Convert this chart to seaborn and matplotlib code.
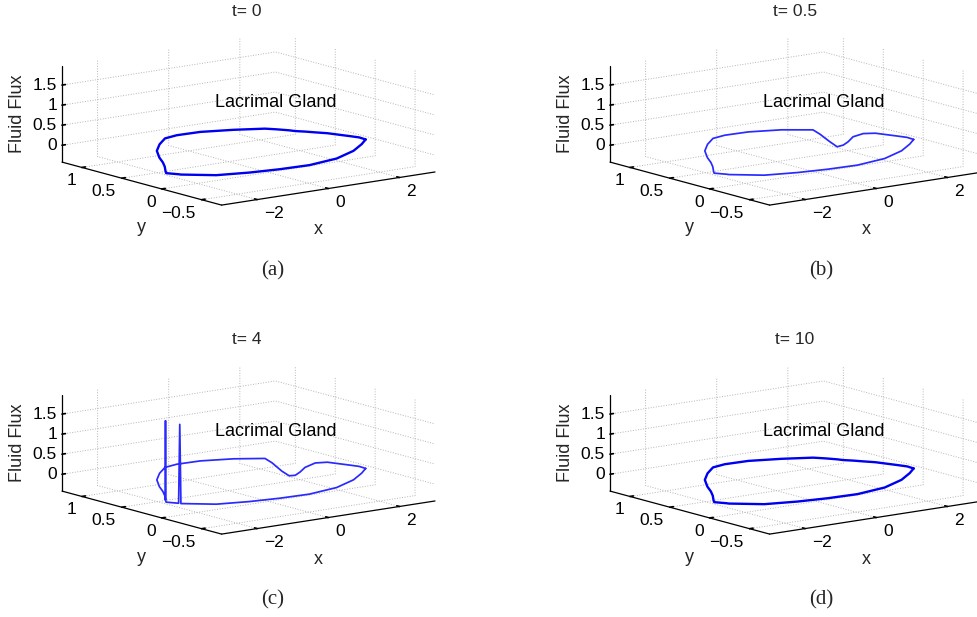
import numpy as np
import matplotlib
matplotlib.use("Agg")
import matplotlib.pyplot as plt
import seaborn as sns
from mpl_toolkits.mplot3d import proj3d

# ---------------- data ----------------
# eyelid boundary, traced from the temporal canthus along the upper lid,
# round the nasal canthus and back along the lower lid
x_outline = [2.80, 2.82, 2.74, 2.53, 2.37, 2.24, 2.17, 2.10, 2.04, 1.95, 1.89,
             1.82, 1.72, 1.08, 0.35, -0.29, -0.71, -1.20, -1.68, -2.08,
             -2.34, -2.58, -2.85, -2.85, -2.85, -2.99, -2.84, -2.83, -2.82,
             -2.23, -1.46, -0.70, 0.10, 1.02, 1.83, 2.42, 2.80]
y_outline = [0.03, 0.12, 0.20, 0.39, 0.47, 0.54, 0.57, 0.60, 0.65, 0.70, 0.733,
             0.765, 0.81, 0.92, 1.01, 1.02, 0.98, 0.83, 0.65, 0.44,
             0.28, 0.15, 0.02, 0.02, 0.02, -0.05, -0.14, -0.15, -0.16,
             -0.34, -0.415, -0.455, -0.47, -0.40, -0.25, -0.09, 0.03]

flux_t0 = [0, 0, 0, 0, 0, 0, 0, 0, 0, 0, 0,
           0, 0, 0, 0, 0, 0, 0, 0, 0,
           0, 0, 0, 0, 0, 0, 0, 0, 0,
           0, 0, 0, 0, 0, 0, 0, 0]
flux_t05 = [0, 0, 0, 0, -0.03, -0.13, -0.26, -0.35, -0.41, -0.30, -0.22,
            -0.13, -0.03, 0, 0, 0, 0, 0, 0, 0,
            0, 0, 0, 0, 0, 0, 0, 0, 0,
            0, 0, 0, 0, 0, 0, 0, 0]
flux_t4 = [0, 0, 0, 0, -0.04, -0.17, -0.29, -0.38, -0.41, -0.31, -0.22,
           -0.12, -0.02, 0, 0, 0, 0, 0, 0, 0,
           0, 0, 0, 1.97, 0, 0, 0, 1.97, 0,
           0, 0, 0, 0, 0, 0, 0, 0]
flux_t10 = [0, 0, 0, 0, 0, 0, 0, 0, 0, 0, 0,
            0, 0, 0, 0, 0, 0, 0, 0, 0,
            0, 0, 0, 0, 0, 0, 0, 0, 0,
            0, 0, 0, 0, 0, 0, 0, 0]

times = ["0", "0.5", "4", "10"]
captions = ["(a)", "(b)", "(c)", "(d)"]
fluxes = [flux_t0, flux_t05, flux_t4, flux_t10]

x_ticks = [-2, 0, 2]
y_ticks = [-0.5, 0, 0.5, 1]
z_ticks = [0, 0.5, 1, 1.5]
x_tick_labels = ['\u22122', '0', '2']
y_tick_labels = ['\u22120.5', '0', '0.5', '1']
z_tick_labels = ['0', '0.5', '1', '1.5']
x_lim = (-3, 3)
y_lim = (-0.75, 1.25)
z_lim = (-0.42, 1.975)

# ---------------- style ----------------
sns.set_theme(style="white")
plt.rcParams['font.family'] = ['Liberation Sans', 'DejaVu Sans']
plt.rcParams['grid.color'] = '#b5b5b5'
plt.rcParams['grid.linestyle'] = ':'
plt.rcParams['grid.linewidth'] = 0.7

W, H = 977, 617
fig = plt.figure(figsize=(W / 100, H / 100), dpi=100, facecolor='white')

panel_offsets = [(0, 0), (548, 0), (0, 329), (548, 329)]
box_center = (248.5, 119.0)    # px from top-left, panel (a)
box_width = 373.0              # projected box width in px
line_styles = [dict(color='#0000f0', lw=1.7), dict(color='#2a2aff', lw=1.25),
               dict(color='#2a2aff', lw=1.25), dict(color='#0000f0', lw=1.7)]
TICK_FS = 12.5

axes = []
for i in range(4):
    s = 0.4
    ax = fig.add_axes([0.05, 0.05, s, s * W / H], projection='3d')
    ax.set_proj_type('ortho')
    ax.view_init(elev=11.8, azim=-127.2)
    ax.set_box_aspect((2.73, 2.69, 1.0), zoom=2.2)
    ax.set_facecolor((1, 1, 1, 0))

    px = np.asarray(x_outline)
    py = np.asarray(y_outline)
    pz = np.asarray(fluxes[i], dtype=float)
    lines = ax.plot(px, py, pz, **line_styles[i], solid_joinstyle='round')
    for ln in lines:
        ln.set_clip_on(False)

    ax.set_xlim(*x_lim)
    ax.set_ylim(*y_lim)
    ax.set_zlim(*z_lim)
    ax.set_xticks(x_ticks)
    ax.set_yticks(y_ticks)
    ax.set_zticks(z_ticks)
    ax.set_xticklabels([''] * len(x_ticks))
    ax.set_yticklabels([''] * len(y_ticks))
    ax.set_zticklabels([''] * len(z_ticks))
    ax.grid(True)
    ax.tick_params(colors='black')

    for axis in (ax.xaxis, ax.yaxis, ax.zaxis):
        axis.set_pane_color((1, 1, 1, 0))
        axis.line.set_color('black')
        axis.line.set_linewidth(0.9)
        axis._axinfo['grid'].update(color='#b5b5b5', linestyle=':', linewidth=0.7)
        axis._axinfo['tick']['inward_factor'] = 0.0
        axis._axinfo['tick']['outward_factor'] = 0.2
        axis._axinfo['tick']['color'] = 'black'
        axis.label.set_visible(False)
        axis.offsetText.set_visible(False)
        for t in axis.get_major_ticks():
            t.label1.set_visible(False)
            t.label2.set_visible(False)
    for ttl in (ax.title, ax._left_title, ax._right_title):
        ttl.set_visible(False)

    ax.text(1.0, 0.36, 0.98, "Lacrimal Gland", ha='center', va='center',
            fontsize=13, color='black')
    axes.append(ax)


def to_px(ax, xx, yy, zz):
    xs, ys, _ = proj3d.proj_transform(np.atleast_1d(np.asarray(xx, float)),
                                      np.atleast_1d(np.asarray(yy, float)),
                                      np.atleast_1d(np.asarray(zz, float)),
                                      ax.get_proj())
    return ax.transData.transform(np.column_stack([xs, ys]))


# ---------------- place each projected box where the reference has it ----------------
fig.canvas.draw()
cx3 = [x_lim[a] for a in (0, 1) for b in (0, 1) for c in (0, 1)]
cy3 = [y_lim[b] for a in (0, 1) for b in (0, 1) for c in (0, 1)]
cz3 = [z_lim[c] for a in (0, 1) for b in (0, 1) for c in (0, 1)]
for i, ax in enumerate(axes):
    pts = to_px(ax, cx3, cy3, cz3)
    wm = pts[:, 0].max() - pts[:, 0].min()
    cxm = 0.5 * (pts[:, 0].max() + pts[:, 0].min())
    cym = 0.5 * (pts[:, 1].max() + pts[:, 1].min())
    bb = ax.get_position()
    acx = 0.5 * (bb.x0 + bb.x1) * W
    acy = 0.5 * (bb.y0 + bb.y1) * H
    size_px = bb.width * W
    k = box_width / wm
    new_size = size_px * k
    offx, offy = (cxm - acx) * k, (cym - acy) * k
    dx, dy = panel_offsets[i]
    tx = box_center[0] + dx
    ty = H - (box_center[1] + dy)
    ncx, ncy = tx - offx, ty - offy
    ax.set_position([(ncx - new_size / 2) / W, (ncy - new_size / 2) / H,
                     new_size / W, new_size / H])

fig.canvas.draw()


# ---------------- tick labels, placed at the projected tick positions ----------------
def ptext(pxd, pyd, s, **kw):
    # pxd, pyd in display pixels (origin bottom-left)
    fig.text(pxd / W, pyd / H, s, fontsize=TICK_FS, color='black', **kw)


for ax in axes:
    p = to_px(ax, x_ticks, [y_lim[0]] * len(x_ticks), [z_lim[0]] * len(x_ticks))
    for (u, v), lab in zip(p, x_tick_labels):
        ptext(u + 7, v - 14, lab, ha='left', va='center')
    p = to_px(ax, [x_lim[0]] * len(y_ticks), y_ticks, [z_lim[0]] * len(y_ticks))
    for (u, v), lab in zip(p, y_tick_labels):
        ptext(u - 6, v - 13.5, lab, ha='right', va='center')
    p = to_px(ax, [x_lim[0]] * len(z_ticks), [y_lim[1]] * len(z_ticks), z_ticks)
    for (u, v), lab in zip(p, z_tick_labels):
        ptext(u - 5, v, lab, ha='right', va='center')


# ---------------- panel texts ----------------
def ftext(px_, py_, s, **kw):
    fig.text(px_ / W, 1 - py_ / H, s, ha='center', va='center', **kw)


for i in range(4):
    dx, dy = panel_offsets[i]
    ftext(247 + dx, 11 + dy, "t= " + times[i], fontsize=12.5)
    ftext(273 + dx, 271 + dy, captions[i], fontsize=15,
          family=['Liberation Serif', 'DejaVu Serif'])
    ftext(318 + dx, 230 + dy, "x", fontsize=13)
    ftext(141 + dx, 228 + dy, "y", fontsize=13)
    ftext(17.5 + dx, 114 + dy, "Fluid Flux", fontsize=13, rotation=90)

fig.savefig("out.png", dpi=100, facecolor='white')
